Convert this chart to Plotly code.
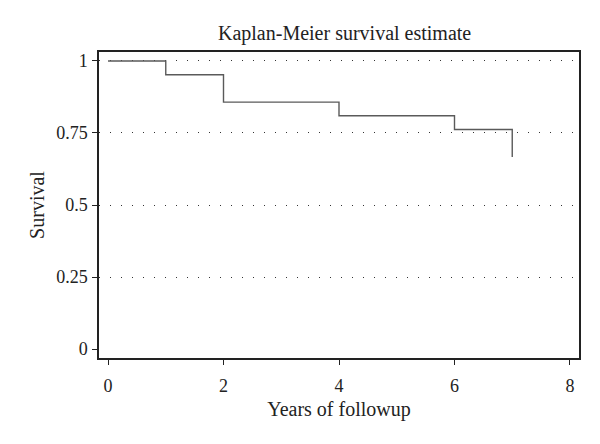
import plotly.graph_objects as go

years = [0, 1, 2, 4, 6, 7]
survival = [1.0, 0.952, 0.857, 0.810, 0.762, 0.667]
x_ticks = [0, 2, 4, 6, 8]
y_ticks = [0, 0.25, 0.5, 0.75, 1]
y_ticklabels = ["0", "0.25", "0.5", "0.75", "1"]
grid_vals = [0.25, 0.5, 0.75, 1]

FONT = "Liberation Serif"

fig = go.Figure()
fig.add_trace(go.Scatter(
    x=years, y=survival, mode="lines", line_shape="hv",
    line=dict(color="#5a5a5a", width=1.4), showlegend=False, hoverinfo="skip",
))
fig.add_trace(go.Scatter(x=[years[0]], y=[survival[0]], yaxis="y2", mode="none",
                         showlegend=False, hoverinfo="skip"))

fig.update_layout(
    width=600, height=444,
    margin=dict(l=91, r=29, t=44, b=94, autoexpand=False),
    paper_bgcolor="white", plot_bgcolor="white",
    font=dict(family=FONT, size=18, color="#222"),
    title=dict(text="Kaplan-Meier survival estimate", x=0.561, xanchor="center",
               y=1 - 25 / 444, yanchor="middle", font=dict(family=FONT, size=20, color="#222")),
    xaxis=dict(range=[-0.156, 8.156], tickvals=x_ticks, ticks="outside", ticklen=5,
               tickcolor="#222", tickwidth=1.2, showgrid=False, zeroline=False,
               showline=True, linecolor="#222", linewidth=1.5, mirror=True,
               automargin=False, ticklabelstandoff=6,
               title=dict(text="Years of followup", standoff=7,
                          font=dict(family=FONT, size=20)),
               tickfont=dict(family=FONT, size=18)),
    yaxis=dict(range=[-0.031, 1.031], tickvals=y_ticks, ticktext=y_ticklabels,
               ticks="outside", ticklen=5, tickcolor="#222", tickwidth=1.2,
               showgrid=False, zeroline=False, showline=True, linecolor="#222",
               linewidth=1.5, mirror=True, automargin=False, ticklabelstandoff=1,
               title=dict(text="Survival", standoff=6, font=dict(family=FONT, size=20)),
               tickfont=dict(family=FONT, size=18)),
    yaxis2=dict(overlaying="y", matches="y", tickvals=grid_vals, showticklabels=False,
                showgrid=True, gridcolor="#333", gridwidth=1, griddash="1px,10px",
                zeroline=False, showline=False, ticks="", automargin=False),
)

fig.write_html("out.html")
